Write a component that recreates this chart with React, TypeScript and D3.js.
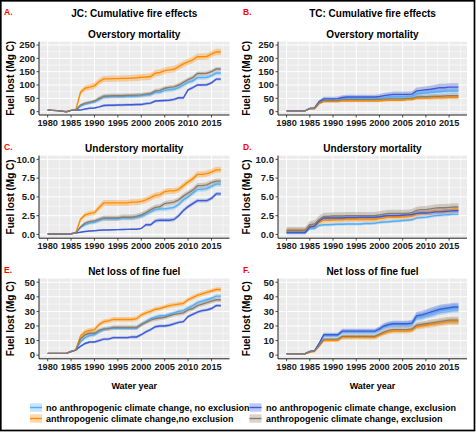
import React, { useRef, useEffect } from "react";
import * as d3 from "d3";

// water years 1980..2017
const years = d3.range(1980, 2018);

const seriesNames = [
  "no anthropogenic climate change, no exclusion",
  "anthropogenic climate change,no exclusion",
  "no anthropogenic climate change, exclusion",
  "anthropogenic climate change, exclusion",
];
const lineColors = ["#52AEF5", "#FF8C00", "#3B5CD9", "#8B7D6B"];

// A. JC overstory mortality
const ovJC_noAcc_noExcl = [6,5,4,2,0,5,6, 20,28,32,36,45,55,56,57,57,57,58,58,59, 60,62,64,72,73,80,82, 84,90,100,110,116,128,128,129,135,145,145];
const ovJC_acc_noExcl = [6,5,4,2,0,5,6, 72,88,92,97,113,123,123,124,124,125,125,126,127, 129,130,132,144,147,154,157, 159,169,179,187,194,206,206,207,216,224,224];
const ovJC_noAcc_excl = [6,5,4,2,0,5,6, 6,10,13,14,18,23,24,24,25,25,26,26,27, 27,30,32,40,41,42,43, 46,52,52,82,90,100,100,101,108,122,122];
const ovJC_acc_excl = [6,5,4,2,0,5,6, 25,32,36,40,50,58,59,60,60,60,61,61,62, 63,66,68,78,80,88,91, 93,100,110,120,128,143,143,144,150,160,160];

// B. TC overstory mortality
const ovTC_noAcc_noExcl = [3,3,3,3,3,12,12, 35,45,45,45,45,49,50,50,50,50,50,50,50, 51,52,55,55,55,55,57, 57,66,68,70,72,74,75,76,77,77,77];
const ovTC_acc_noExcl = [3,3,3,3,3,11,11, 30,38,38,38,38,40,40,40,40,40,40,40,40, 40,42,43,43,43,43,45, 45,50,50,51,51,52,52,52,53,53,53];
const ovTC_noAcc_excl = [3,3,3,3,3,12,14, 38,48,48,48,49,53,55,55,55,55,55,55,55, 57,60,63,65,65,65,65, 66,78,80,82,84,87,90,90,92,92,92];
const ovTC_acc_excl = [3,3,3,3,3,12,12, 33,42,42,42,42,45,45,45,45,45,45,45,45, 46,47,48,48,48,48,50, 50,55,56,56,57,58,58,59,60,60,60];

// C. JC understory mortality
const unJC_noAcc_noExcl = [0.05,0.05,0.05,0.05,0.05,0.1,0.2, 0.9,1.3,1.5,1.6,1.9,2.1,2.1,2.1,2.1,2.2,2.2,2.2,2.3, 2.4,2.7,3.0,3.3,3.4,3.4,3.5, 3.6,4.0,4.6,5.0,5.5,6.0,6.0,6.1,6.4,6.7,6.7];
const unJC_acc_noExcl = [0.05,0.05,0.05,0.05,0.05,0.1,0.2, 2.0,2.6,2.8,2.9,3.6,4.2,4.2,4.2,4.2,4.2,4.2,4.3,4.3, 4.4,4.6,4.9,5.2,5.3,5.7,5.8, 5.8,6.0,6.5,7.0,7.4,8.0,8.0,8.1,8.3,8.6,8.6];
const unJC_noAcc_excl = [0.05,0.05,0.05,0.05,0.05,0.1,0.2, 0.3,0.4,0.45,0.5,0.55,0.6,0.6,0.62,0.64,0.66,0.68,0.7,0.7, 0.8,1.3,1.3,1.8,1.9,1.9,1.9, 2.0,2.5,3.2,3.7,4.1,4.5,4.5,4.5,4.8,5.4,5.4];
const unJC_acc_excl = [0.05,0.05,0.05,0.05,0.05,0.1,0.2, 1.0,1.5,1.7,1.8,2.0,2.2,2.2,2.2,2.2,2.3,2.3,2.3,2.4, 2.6,2.9,3.3,3.6,3.7,4.1,4.2, 4.3,4.6,5.1,5.5,5.9,6.5,6.5,6.6,6.9,7.1,7.1];

// D. TC understory mortality
const unTC_noAcc_noExcl = [0.25,0.25,0.25,0.25,0.25,0.8,0.8, 1.2,1.3,1.3,1.32,1.35,1.35,1.4,1.4,1.4,1.4,1.45,1.45,1.5, 1.6,1.65,1.7,1.75,1.8,1.85,1.9, 1.95,2.2,2.25,2.3,2.4,2.5,2.55,2.6,2.65,2.7,2.7];
const unTC_acc_noExcl = [0.5,0.5,0.5,0.5,0.5,1.0,1.1, 1.6,1.9,1.9,1.92,1.95,1.95,2.0,2.0,2.0,2.0,2.0,2.0,2.0, 2.1,2.2,2.3,2.3,2.35,2.35,2.4, 2.45,2.7,2.8,2.85,2.95,3.05,3.1,3.15,3.2,3.25,3.25];
const unTC_noAcc_excl = [0.25,0.25,0.25,0.25,0.25,1.0,1.1, 1.8,2.2,2.2,2.2,2.2,2.2,2.25,2.25,2.25,2.3,2.3,2.3,2.3, 2.35,2.45,2.5,2.5,2.5,2.55,2.6, 2.65,2.8,2.85,2.85,2.9,3.0,3.0,3.05,3.1,3.15,3.15];
const unTC_acc_excl = [0.55,0.55,0.55,0.55,0.55,1.3,1.4, 2.0,2.4,2.4,2.45,2.45,2.45,2.5,2.5,2.5,2.5,2.5,2.5,2.5, 2.6,2.7,2.8,2.8,2.8,2.8,2.8, 2.9,3.2,3.3,3.3,3.4,3.5,3.55,3.55,3.6,3.65,3.65];

// E. JC net loss of fine fuel
const ffJC_noAcc_noExcl = [1.2,1.2,1.2,1.2,1.2,2.5,3.5, 9,12,13.5,14,16,17.5,18.5,18.5,18.5,18.5,18.5,18.5,18.5, 21,23,25,26,27,27,28, 29,30,30.5,32.5,34,36,37,38,39,40.5,40.5];
const ffJC_acc_noExcl = [1.2,1.2,1.2,1.2,1.2,2.5,3.5, 13,16,17,17.5,21,23,23.5,24.5,24.5,24.5,24.5,24.5,25, 27.5,29,30,31.5,32,33,34, 34.5,35,35.5,38,39.5,41,42,43,44,45,45];
const ffJC_noAcc_excl = [1.2,1.2,1.2,1.2,1.2,2.5,3.5, 6,8,9,9,10,11,11,12,12,12,12,12.5,12.5, 14,16,17.5,19.5,20,20,20.5, 21.5,22.5,23,26.5,28,29.5,30.5,31,32,34,34];
const ffJC_acc_excl = [1.2,1.2,1.2,1.2,1.2,2.5,3.5, 11,14,15,15,17,18,18,19,19,19,19,19,19, 21,22.5,24,25,25.5,26,27, 28,28.5,29,31,32,34,35,36,37,38,38];

// F. TC net loss of fine fuel
const ffTC_noAcc_noExcl = [1,1,1,1,1,2.5,3, 7.5,13.5,13.5,13.5,13.5,16,16,16,16,16,16,16,16, 17.5,19.5,20.5,21,21,21,21, 21.5,26,26.5,27.5,28.5,29.5,30.5,31,31.5,32,32];
const ffTC_acc_noExcl = [1,1,1,1,1,2,2.5, 6,10,10,10,10,12,12,12,12,12,12,12,12, 13.5,15,16,16.5,16.5,16.5,16.5, 17,19.5,20,20.5,21,21.5,22,22.5,23,23,23];
const ffTC_noAcc_excl = [1,1,1,1,1,2.5,3, 8,14,14,14,14,16.5,16.5,16.5,16.5,16.5,16.5,16.5,16.5, 18,20,21,21.5,21.5,21.5,21.5, 22,27,27.5,28.5,29.5,30.5,31.5,32,32.5,33,33];
const ffTC_acc_excl = [1,1,1,1,1,2.5,3, 6.5,11,11,11,11,13,13,13,13,13,13,13,13, 14.5,16,17,17.5,17.5,17.5,17.5, 18,20.5,21,21.5,22,22.5,23,23.5,24,24,24];

// tick labels
const xTicks = [1980, 1985, 1990, 1995, 2000, 2005, 2010, 2015];
const ovTicks = [0, 50, 100, 150, 200, 250];
const unTicks = [0, 2.5, 5, 7.5, 10];
const ffTicks = [0, 10, 20, 30, 40, 50];

const headings = ["JC: Cumulative fire effects", "TC: Cumulative fire effects"];
const subtitles = ["Overstory mortality", "Understory mortality", "Net loss of fine fuel"];
const panelLabels = ["A.", "B.", "C.", "D.", "E.", "F."];

const FONT = "'Liberation Sans', Arial, sans-serif";

type Panel = {
  col: number;
  row: number;
  series: number[][];
  ticks: number[];
  fmt: (v: number) => string;
  frac: number[];
  cap: number[];
};

const intFmt = (v: number) => String(v);
const decFmt = d3.format(".1f");

const panels: Panel[] = [
  { col: 0, row: 0, series: [ovJC_noAcc_noExcl, ovJC_acc_noExcl, ovJC_noAcc_excl, ovJC_acc_excl], ticks: ovTicks, fmt: intFmt, frac: [0.15, 0.12, 0.2, 0.15], cap: [8, 12, 5, 8] },
  { col: 1, row: 0, series: [ovTC_noAcc_noExcl, ovTC_acc_noExcl, ovTC_noAcc_excl, ovTC_acc_excl], ticks: ovTicks, fmt: intFmt, frac: [0.14, 0.12, 0.16, 0.13], cap: [12, 7, 15, 8] },
  { col: 0, row: 1, series: [unJC_noAcc_noExcl, unJC_acc_noExcl, unJC_noAcc_excl, unJC_acc_excl], ticks: unTicks, fmt: decFmt, frac: [0.15, 0.12, 0.15, 0.15], cap: [0.3, 0.4, 0.25, 0.35] },
  { col: 1, row: 1, series: [unTC_noAcc_noExcl, unTC_acc_noExcl, unTC_noAcc_excl, unTC_acc_excl], ticks: unTicks, fmt: decFmt, frac: [0.6, 0.8, 1, 0.8], cap: [0.2, 0.35, 0.3, 0.5] },
  { col: 0, row: 2, series: [ffJC_noAcc_noExcl, ffJC_acc_noExcl, ffJC_noAcc_excl, ffJC_acc_excl], ticks: ffTicks, fmt: intFmt, frac: [0.1, 0.1, 0.1, 0.1], cap: [1.3, 1.6, 1.0, 1.5] },
  { col: 1, row: 2, series: [ffTC_noAcc_noExcl, ffTC_acc_noExcl, ffTC_noAcc_excl, ffTC_acc_excl], ticks: ffTicks, fmt: intFmt, frac: [0.1, 0.1, 0.1, 0.1], cap: [3, 2.5, 3, 2.5] },
];

// layout
const cols = [
  { x0: 39, x1: 229.5, yTitleX: 10, labelX: 4 },
  { x0: 278, x1: 467, yTitleX: 246, labelX: 243 },
];
const rows = [
  { top: 41.7, bottom: 115, labelY: 15 },
  { top: 155.6, bottom: 238.2, labelY: 150 },
  { top: 278.6, bottom: 358.8, labelY: 273 },
];

export default function App() {
  const svgRef = useRef<SVGSVGElement>(null);

  useEffect(() => {
    if (!svgRef.current) return;
    const svg = d3.select(svgRef.current);
    svg.selectAll("*").remove();

    svg.append("rect").attr("width", 476).attr("height", 433).attr("fill", "#fff");

    panels.forEach((p, pi) => {
      const c = cols[p.col];
      const r = rows[p.row];
      const yMax = p.ticks[p.ticks.length - 1];
      const xPad = (2017 - 1980) * 0.05;
      const yPad = yMax * 0.05;

      const x = d3.scaleLinear().domain([1980 - xPad, 2017 + xPad]).range([c.x0, c.x1]);
      const y = d3.scaleLinear().domain([-yPad, yMax + yPad]).range([r.bottom, r.top]);

      const g = svg.append("g");

      // panel background
      g.append("rect")
        .attr("x", c.x0).attr("y", r.top)
        .attr("width", c.x1 - c.x0).attr("height", r.bottom - r.top)
        .attr("fill", "#EBEBEB");

      // minor grid
      const step = p.ticks[1] - p.ticks[0];
      const yMinor = p.ticks.slice(0, -1).map((t) => t + step / 2);
      const xMinor = xTicks.map((t) => t + 2.5);
      g.selectAll(".ymin").data(yMinor).join("line")
        .attr("x1", c.x0).attr("x2", c.x1)
        .attr("y1", (d) => y(d)).attr("y2", (d) => y(d))
        .attr("stroke", "#fff").attr("stroke-width", 0.5);
      g.selectAll(".xmin").data(xMinor).join("line")
        .attr("x1", (d) => x(d)).attr("x2", (d) => x(d))
        .attr("y1", r.top).attr("y2", r.bottom)
        .attr("stroke", "#fff").attr("stroke-width", 0.5);
      // major grid
      g.selectAll(".ymaj").data(p.ticks).join("line")
        .attr("x1", c.x0).attr("x2", c.x1)
        .attr("y1", (d) => y(d)).attr("y2", (d) => y(d))
        .attr("stroke", "#fff").attr("stroke-width", 1);
      g.selectAll(".xmaj").data(xTicks).join("line")
        .attr("x1", (d) => x(d)).attr("x2", (d) => x(d))
        .attr("y1", r.top).attr("y2", r.bottom)
        .attr("stroke", "#fff").attr("stroke-width", 1);

      // ribbons
      p.series.forEach((vals, si) => {
        const half = (v: number) => Math.min(p.cap[si], p.frac[si] * Math.abs(v));
        const area = d3.area<number>()
          .x((_, i) => x(years[i]))
          .y0((v) => y(v - half(v)))
          .y1((v) => y(v + half(v)));
        g.append("path")
          .attr("d", area(vals) || "")
          .attr("fill", lineColors[si])
          .attr("fill-opacity", 0.33);
      });

      // lines
      p.series.forEach((vals, si) => {
        const line = d3.line<number>()
          .x((_, i) => x(years[i]))
          .y((v) => y(v));
        g.append("path")
          .attr("d", line(vals) || "")
          .attr("fill", "none")
          .attr("stroke", lineColors[si])
          .attr("stroke-width", 1.4);
      });

      // axis lines
      g.append("line")
        .attr("x1", c.x0).attr("x2", c.x0).attr("y1", r.top).attr("y2", r.bottom)
        .attr("stroke", "#222").attr("stroke-width", 1);
      g.append("line")
        .attr("x1", c.x0).attr("x2", c.x1).attr("y1", r.bottom).attr("y2", r.bottom)
        .attr("stroke", "#222").attr("stroke-width", 1);

      // y ticks
      p.ticks.forEach((t) => {
        g.append("line")
          .attr("x1", c.x0 - 2.5).attr("x2", c.x0)
          .attr("y1", y(t)).attr("y2", y(t))
          .attr("stroke", "#222").attr("stroke-width", 0.8);
        g.append("text")
          .attr("x", c.x0 - 4).attr("y", y(t)).attr("dy", "0.35em")
          .attr("text-anchor", "end")
          .attr("font-family", FONT).attr("font-size", 9.5).attr("font-weight", "bold")
          .attr("fill", "#1a1a1a")
          .text(p.fmt(t));
      });
      // x ticks
      xTicks.forEach((t) => {
        g.append("line")
          .attr("x1", x(t)).attr("x2", x(t))
          .attr("y1", r.bottom).attr("y2", r.bottom + 2.5)
          .attr("stroke", "#222").attr("stroke-width", 0.8);
        g.append("text")
          .attr("x", x(t)).attr("y", r.bottom + 11)
          .attr("text-anchor", "middle")
          .attr("font-family", FONT).attr("font-size", 9.2).attr("font-weight", "bold")
          .attr("fill", "#1a1a1a")
          .text(String(t));
      });

      // y title
      const cy = (r.top + r.bottom) / 2;
      g.append("text")
        .attr("transform", `translate(${c.yTitleX},${cy}) rotate(-90)`)
        .attr("dy", "0.35em")
        .attr("text-anchor", "middle")
        .attr("font-family", FONT).attr("font-size", 10).attr("font-weight", "bold")
        .attr("fill", "#000")
        .text("Fuel lost (Mg C)");

      // subtitle
      const cx = (c.x0 + c.x1) / 2;
      g.append("text")
        .attr("x", cx).attr("y", r.top - 3.7)
        .attr("text-anchor", "middle")
        .attr("font-family", FONT).attr("font-size", 10).attr("font-weight", "bold")
        .attr("fill", "#000")
        .text(subtitles[p.row]);

      // panel letter
      g.append("text")
        .attr("x", c.labelX).attr("y", r.labelY)
        .attr("font-family", FONT).attr("font-size", 8.5).attr("font-weight", "bold")
        .attr("fill", "#FF0000")
        .text(panelLabels[pi]);

      if (p.row === 0) {
        g.append("text")
          .attr("x", cx).attr("y", 17)
          .attr("text-anchor", "middle")
          .attr("font-family", FONT).attr("font-size", 10).attr("font-weight", "bold")
          .attr("fill", "#000")
          .text(headings[p.col]);
      }
      if (p.row === 2) {
        g.append("text")
          .attr("x", cx).attr("y", 389)
          .attr("text-anchor", "middle")
          .attr("font-family", FONT).attr("font-size", 9).attr("font-weight", "bold")
          .attr("fill", "#000")
          .text("Water year");
      }
    });

    // legend, two columns filled column-wise
    const legendKeyX = [30, 249.5];
    const legendTextX = [46, 266];
    const legendRowY = [407.5, 418.5];
    seriesNames.forEach((name, i) => {
      const col = Math.floor(i / 2);
      const row = i % 2;
      const ky = legendRowY[row];
      const lg = svg.append("g");
      lg.append("rect")
        .attr("x", legendKeyX[col]).attr("y", ky - 4.2)
        .attr("width", 12).attr("height", 8.4)
        .attr("fill", lineColors[i]).attr("fill-opacity", 0.33);
      lg.append("line")
        .attr("x1", legendKeyX[col]).attr("x2", legendKeyX[col] + 12)
        .attr("y1", ky).attr("y2", ky)
        .attr("stroke", lineColors[i]).attr("stroke-width", 1.4);
      lg.append("text")
        .attr("x", legendTextX[col]).attr("y", ky).attr("dy", "0.35em")
        .attr("font-family", FONT).attr("font-size", 9).attr("font-weight", "bold")
        .attr("fill", "#000")
        .text(name);
    });

    // outer frame
    svg.append("rect")
      .attr("x", 0.8).attr("y", 0.8)
      .attr("width", 473.7).attr("height", 429.7)
      .attr("fill", "none")
      .attr("stroke", "#000").attr("stroke-width", 1.7);
  }, []);

  return (
    <svg
      ref={svgRef}
      width={476}
      height={433}
      style={{ position: "absolute", left: 0, top: 0, display: "block" }}
    />
  );
}
